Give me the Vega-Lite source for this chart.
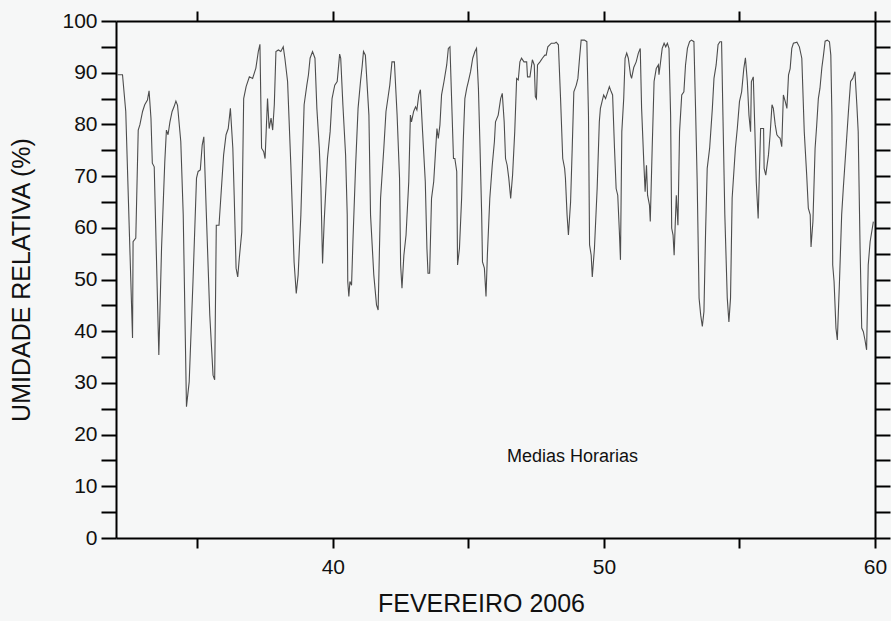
{
  "$schema": "https://vega.github.io/schema/vega-lite/v6.json",
  "width": 759,
  "height": 517,
  "autosize": {"type": "none"},
  "padding": {"left": 116, "top": 21, "right": 16, "bottom": 83},
  "background": "#f6f7f7",
  "config": {
    "view": {"stroke": null},
    "font": "Liberation Sans",
    "axis": {
      "grid": false,
      "domainColor": "#000000",
      "domainWidth": 2,
      "tickColor": "#000000",
      "tickWidth": 2,
      "labelFlush": false,
      "labelFont": "Liberation Sans",
      "labelFontSize": 21,
      "labelColor": "#111111",
      "titleFont": "Liberation Sans",
      "titleFontSize": 25,
      "titleFontWeight": "normal",
      "titleColor": "#111111"
    }
  },
  "datasets": {
    "ur": [
      {"dia": 32.05, "ur": 89.6}, {"dia": 32.24, "ur": 89.6}, {"dia": 32.36, "ur": 82.5}, {"dia": 32.61, "ur": 38.7},
      {"dia": 32.63, "ur": 57.3}, {"dia": 32.73, "ur": 58.0}, {"dia": 32.82, "ur": 78.9}, {"dia": 32.88, "ur": 79.9},
      {"dia": 32.98, "ur": 82.5}, {"dia": 33.06, "ur": 83.8}, {"dia": 33.16, "ur": 84.7}, {"dia": 33.22, "ur": 86.5},
      {"dia": 33.29, "ur": 81.2}, {"dia": 33.34, "ur": 72.5}, {"dia": 33.41, "ur": 71.8}, {"dia": 33.58, "ur": 35.4},
      {"dia": 33.68, "ur": 56.0}, {"dia": 33.80, "ur": 72.8}, {"dia": 33.86, "ur": 78.9}, {"dia": 33.92, "ur": 78.0},
      {"dia": 33.99, "ur": 80.5}, {"dia": 34.07, "ur": 82.5}, {"dia": 34.14, "ur": 83.4}, {"dia": 34.21, "ur": 84.5},
      {"dia": 34.27, "ur": 83.7}, {"dia": 34.39, "ur": 76.7}, {"dia": 34.48, "ur": 62.5}, {"dia": 34.60, "ur": 25.4},
      {"dia": 34.70, "ur": 30.2}, {"dia": 34.84, "ur": 49.6}, {"dia": 34.97, "ur": 69.6}, {"dia": 35.03, "ur": 70.9},
      {"dia": 35.11, "ur": 71.2}, {"dia": 35.18, "ur": 76.0}, {"dia": 35.24, "ur": 77.6}, {"dia": 35.33, "ur": 63.1},
      {"dia": 35.46, "ur": 43.1}, {"dia": 35.58, "ur": 31.5}, {"dia": 35.64, "ur": 30.6}, {"dia": 35.70, "ur": 60.5},
      {"dia": 35.80, "ur": 60.5}, {"dia": 35.89, "ur": 67.7}, {"dia": 35.97, "ur": 74.1}, {"dia": 36.06, "ur": 78.0},
      {"dia": 36.14, "ur": 79.2}, {"dia": 36.22, "ur": 83.1}, {"dia": 36.31, "ur": 75.4}, {"dia": 36.36, "ur": 66.3},
      {"dia": 36.43, "ur": 52.2}, {"dia": 36.49, "ur": 50.5}, {"dia": 36.55, "ur": 54.2}, {"dia": 36.64, "ur": 59.2},
      {"dia": 36.71, "ur": 85.0}, {"dia": 36.80, "ur": 87.3}, {"dia": 36.92, "ur": 89.2}, {"dia": 37.04, "ur": 88.9},
      {"dia": 37.16, "ur": 90.9}, {"dia": 37.25, "ur": 94.1}, {"dia": 37.31, "ur": 95.5}, {"dia": 37.37, "ur": 75.4},
      {"dia": 37.45, "ur": 74.7}, {"dia": 37.50, "ur": 73.4}, {"dia": 37.54, "ur": 78.6}, {"dia": 37.59, "ur": 85.0},
      {"dia": 37.65, "ur": 79.2}, {"dia": 37.72, "ur": 81.2}, {"dia": 37.78, "ur": 78.9}, {"dia": 37.84, "ur": 83.8},
      {"dia": 37.90, "ur": 94.1}, {"dia": 37.99, "ur": 94.4}, {"dia": 38.08, "ur": 94.1}, {"dia": 38.17, "ur": 95.0},
      {"dia": 38.23, "ur": 92.8}, {"dia": 38.33, "ur": 88.3}, {"dia": 38.45, "ur": 72.1}, {"dia": 38.57, "ur": 53.4},
      {"dia": 38.65, "ur": 47.3}, {"dia": 38.72, "ur": 50.9}, {"dia": 38.82, "ur": 62.5}, {"dia": 38.94, "ur": 83.8},
      {"dia": 39.04, "ur": 87.6}, {"dia": 39.10, "ur": 89.6}, {"dia": 39.16, "ur": 92.8}, {"dia": 39.25, "ur": 94.1},
      {"dia": 39.34, "ur": 92.8}, {"dia": 39.41, "ur": 83.1}, {"dia": 39.50, "ur": 75.4}, {"dia": 39.56, "ur": 67.6},
      {"dia": 39.62, "ur": 53.1}, {"dia": 39.68, "ur": 61.2}, {"dia": 39.80, "ur": 73.4}, {"dia": 39.90, "ur": 78.6},
      {"dia": 39.97, "ur": 85.0}, {"dia": 40.07, "ur": 87.6}, {"dia": 40.16, "ur": 88.3}, {"dia": 40.25, "ur": 93.6},
      {"dia": 40.29, "ur": 92.8}, {"dia": 40.37, "ur": 83.8}, {"dia": 40.47, "ur": 74.1}, {"dia": 40.53, "ur": 62.5},
      {"dia": 40.55, "ur": 49.6}, {"dia": 40.59, "ur": 46.7}, {"dia": 40.63, "ur": 49.6}, {"dia": 40.69, "ur": 48.9},
      {"dia": 40.74, "ur": 57.3}, {"dia": 40.84, "ur": 72.1}, {"dia": 40.93, "ur": 83.1}, {"dia": 41.02, "ur": 88.3},
      {"dia": 41.08, "ur": 91.2}, {"dia": 41.13, "ur": 94.1}, {"dia": 41.20, "ur": 93.4}, {"dia": 41.33, "ur": 81.8},
      {"dia": 41.39, "ur": 62.5}, {"dia": 41.51, "ur": 50.9}, {"dia": 41.61, "ur": 45.1}, {"dia": 41.67, "ur": 44.1},
      {"dia": 41.76, "ur": 65.7}, {"dia": 41.88, "ur": 75.4}, {"dia": 41.96, "ur": 82.5}, {"dia": 42.04, "ur": 85.4},
      {"dia": 42.10, "ur": 87.6}, {"dia": 42.18, "ur": 92.1}, {"dia": 42.27, "ur": 92.1}, {"dia": 42.37, "ur": 81.8},
      {"dia": 42.46, "ur": 69.6}, {"dia": 42.50, "ur": 52.8}, {"dia": 42.55, "ur": 48.3}, {"dia": 42.62, "ur": 54.7},
      {"dia": 42.70, "ur": 58.6}, {"dia": 42.80, "ur": 68.9}, {"dia": 42.86, "ur": 81.8}, {"dia": 42.90, "ur": 80.5},
      {"dia": 42.98, "ur": 82.5}, {"dia": 43.05, "ur": 83.4}, {"dia": 43.10, "ur": 82.8}, {"dia": 43.17, "ur": 85.7},
      {"dia": 43.23, "ur": 86.7}, {"dia": 43.31, "ur": 78.6}, {"dia": 43.41, "ur": 68.9}, {"dia": 43.47, "ur": 56.0},
      {"dia": 43.51, "ur": 51.2}, {"dia": 43.57, "ur": 51.2}, {"dia": 43.64, "ur": 65.7}, {"dia": 43.72, "ur": 68.9},
      {"dia": 43.78, "ur": 74.1}, {"dia": 43.84, "ur": 79.2}, {"dia": 43.89, "ur": 77.3}, {"dia": 43.95, "ur": 79.9},
      {"dia": 44.01, "ur": 85.7}, {"dia": 44.10, "ur": 88.3}, {"dia": 44.20, "ur": 91.5}, {"dia": 44.26, "ur": 94.7},
      {"dia": 44.32, "ur": 95.0}, {"dia": 44.38, "ur": 85.0}, {"dia": 44.45, "ur": 73.4}, {"dia": 44.50, "ur": 73.4},
      {"dia": 44.57, "ur": 70.9}, {"dia": 44.60, "ur": 52.8}, {"dia": 44.67, "ur": 56.0}, {"dia": 44.75, "ur": 65.7},
      {"dia": 44.81, "ur": 76.7}, {"dia": 44.87, "ur": 85.0}, {"dia": 44.94, "ur": 87.0}, {"dia": 45.00, "ur": 88.3},
      {"dia": 45.08, "ur": 90.2}, {"dia": 45.16, "ur": 92.8}, {"dia": 45.24, "ur": 94.1}, {"dia": 45.30, "ur": 94.7},
      {"dia": 45.37, "ur": 87.0}, {"dia": 45.43, "ur": 75.4}, {"dia": 45.49, "ur": 62.5}, {"dia": 45.52, "ur": 53.4},
      {"dia": 45.59, "ur": 52.2}, {"dia": 45.65, "ur": 46.7}, {"dia": 45.70, "ur": 54.7}, {"dia": 45.79, "ur": 65.7},
      {"dia": 45.88, "ur": 72.1}, {"dia": 45.96, "ur": 76.7}, {"dia": 46.00, "ur": 80.5}, {"dia": 46.10, "ur": 81.8},
      {"dia": 46.19, "ur": 85.0}, {"dia": 46.25, "ur": 86.0}, {"dia": 46.32, "ur": 80.5}, {"dia": 46.37, "ur": 73.4},
      {"dia": 46.43, "ur": 72.1}, {"dia": 46.49, "ur": 69.6}, {"dia": 46.56, "ur": 65.7}, {"dia": 46.63, "ur": 70.2},
      {"dia": 46.71, "ur": 78.6}, {"dia": 46.78, "ur": 88.9}, {"dia": 46.84, "ur": 88.6}, {"dia": 46.90, "ur": 92.1},
      {"dia": 46.96, "ur": 92.8}, {"dia": 47.05, "ur": 92.1}, {"dia": 47.15, "ur": 92.1}, {"dia": 47.18, "ur": 89.2},
      {"dia": 47.27, "ur": 89.2}, {"dia": 47.36, "ur": 92.5}, {"dia": 47.43, "ur": 91.5}, {"dia": 47.47, "ur": 85.4},
      {"dia": 47.51, "ur": 85.0}, {"dia": 47.55, "ur": 91.5}, {"dia": 47.64, "ur": 92.1}, {"dia": 47.73, "ur": 92.8},
      {"dia": 47.82, "ur": 93.4}, {"dia": 47.87, "ur": 93.4}, {"dia": 47.93, "ur": 95.0}, {"dia": 48.06, "ur": 95.7},
      {"dia": 48.18, "ur": 95.7}, {"dia": 48.24, "ur": 95.9}, {"dia": 48.32, "ur": 95.4}, {"dia": 48.40, "ur": 85.0},
      {"dia": 48.48, "ur": 73.4}, {"dia": 48.55, "ur": 71.5}, {"dia": 48.58, "ur": 69.6}, {"dia": 48.64, "ur": 62.5},
      {"dia": 48.69, "ur": 58.6}, {"dia": 48.77, "ur": 65.0}, {"dia": 48.83, "ur": 75.4}, {"dia": 48.89, "ur": 86.3},
      {"dia": 48.98, "ur": 87.6}, {"dia": 49.04, "ur": 88.9}, {"dia": 49.10, "ur": 92.8}, {"dia": 49.16, "ur": 96.3},
      {"dia": 49.28, "ur": 96.3}, {"dia": 49.37, "ur": 96.0}, {"dia": 49.43, "ur": 81.8}, {"dia": 49.47, "ur": 56.7},
      {"dia": 49.53, "ur": 54.7}, {"dia": 49.57, "ur": 50.5}, {"dia": 49.65, "ur": 56.0}, {"dia": 49.75, "ur": 67.6},
      {"dia": 49.83, "ur": 80.5}, {"dia": 49.87, "ur": 83.1}, {"dia": 49.93, "ur": 84.4}, {"dia": 49.99, "ur": 85.7},
      {"dia": 50.06, "ur": 85.0}, {"dia": 50.14, "ur": 86.3}, {"dia": 50.20, "ur": 87.3}, {"dia": 50.27, "ur": 86.3},
      {"dia": 50.32, "ur": 85.7}, {"dia": 50.39, "ur": 75.4}, {"dia": 50.45, "ur": 67.6}, {"dia": 50.51, "ur": 66.3},
      {"dia": 50.57, "ur": 59.2}, {"dia": 50.61, "ur": 53.8}, {"dia": 50.66, "ur": 78.6}, {"dia": 50.73, "ur": 85.0},
      {"dia": 50.78, "ur": 92.8}, {"dia": 50.84, "ur": 93.8}, {"dia": 50.90, "ur": 92.8}, {"dia": 50.98, "ur": 89.6},
      {"dia": 51.02, "ur": 88.9}, {"dia": 51.10, "ur": 91.0}, {"dia": 51.19, "ur": 92.1}, {"dia": 51.27, "ur": 93.8},
      {"dia": 51.34, "ur": 94.7}, {"dia": 51.39, "ur": 83.1}, {"dia": 51.47, "ur": 72.8}, {"dia": 51.52, "ur": 67.0},
      {"dia": 51.57, "ur": 72.1}, {"dia": 51.61, "ur": 66.3}, {"dia": 51.68, "ur": 64.4}, {"dia": 51.71, "ur": 61.2},
      {"dia": 51.78, "ur": 75.4}, {"dia": 51.85, "ur": 88.3}, {"dia": 51.93, "ur": 90.8}, {"dia": 52.01, "ur": 91.5},
      {"dia": 52.03, "ur": 89.6}, {"dia": 52.09, "ur": 92.1}, {"dia": 52.15, "ur": 94.7}, {"dia": 52.22, "ur": 95.7},
      {"dia": 52.28, "ur": 95.0}, {"dia": 52.34, "ur": 95.7}, {"dia": 52.40, "ur": 94.7}, {"dia": 52.46, "ur": 81.8},
      {"dia": 52.50, "ur": 59.9}, {"dia": 52.55, "ur": 58.6}, {"dia": 52.59, "ur": 54.7}, {"dia": 52.62, "ur": 59.2},
      {"dia": 52.67, "ur": 66.3}, {"dia": 52.73, "ur": 60.5}, {"dia": 52.79, "ur": 78.6}, {"dia": 52.87, "ur": 85.7},
      {"dia": 52.95, "ur": 86.3}, {"dia": 53.01, "ur": 91.5}, {"dia": 53.08, "ur": 94.7}, {"dia": 53.16, "ur": 96.0},
      {"dia": 53.23, "ur": 96.3}, {"dia": 53.32, "ur": 96.0}, {"dia": 53.38, "ur": 83.1}, {"dia": 53.44, "ur": 68.9},
      {"dia": 53.51, "ur": 46.4}, {"dia": 53.57, "ur": 43.1}, {"dia": 53.63, "ur": 40.9}, {"dia": 53.69, "ur": 43.8},
      {"dia": 53.75, "ur": 59.2}, {"dia": 53.81, "ur": 71.5}, {"dia": 53.90, "ur": 75.4}, {"dia": 54.00, "ur": 83.1},
      {"dia": 54.06, "ur": 88.9}, {"dia": 54.14, "ur": 91.5}, {"dia": 54.21, "ur": 95.4}, {"dia": 54.28, "ur": 96.0},
      {"dia": 54.34, "ur": 96.0}, {"dia": 54.39, "ur": 81.8}, {"dia": 54.46, "ur": 62.5}, {"dia": 54.55, "ur": 46.4},
      {"dia": 54.61, "ur": 41.8}, {"dia": 54.67, "ur": 46.4}, {"dia": 54.73, "ur": 65.7}, {"dia": 54.85, "ur": 75.4},
      {"dia": 54.92, "ur": 79.2}, {"dia": 55.00, "ur": 84.4}, {"dia": 55.08, "ur": 86.3}, {"dia": 55.16, "ur": 90.8},
      {"dia": 55.22, "ur": 92.9}, {"dia": 55.29, "ur": 88.3}, {"dia": 55.35, "ur": 81.8}, {"dia": 55.41, "ur": 78.6},
      {"dia": 55.44, "ur": 88.3}, {"dia": 55.51, "ur": 89.2}, {"dia": 55.57, "ur": 78.6}, {"dia": 55.62, "ur": 68.9},
      {"dia": 55.69, "ur": 61.8}, {"dia": 55.78, "ur": 79.2}, {"dia": 55.89, "ur": 79.2}, {"dia": 55.91, "ur": 71.5},
      {"dia": 55.97, "ur": 70.2}, {"dia": 56.07, "ur": 74.1}, {"dia": 56.13, "ur": 78.0}, {"dia": 56.20, "ur": 83.8},
      {"dia": 56.25, "ur": 83.1}, {"dia": 56.32, "ur": 79.9}, {"dia": 56.38, "ur": 78.0}, {"dia": 56.44, "ur": 77.6},
      {"dia": 56.50, "ur": 77.3}, {"dia": 56.56, "ur": 75.7}, {"dia": 56.62, "ur": 85.7}, {"dia": 56.69, "ur": 84.4},
      {"dia": 56.75, "ur": 83.1}, {"dia": 56.81, "ur": 89.6}, {"dia": 56.87, "ur": 90.8}, {"dia": 56.93, "ur": 94.7},
      {"dia": 56.99, "ur": 95.7}, {"dia": 57.12, "ur": 95.9}, {"dia": 57.21, "ur": 95.0}, {"dia": 57.30, "ur": 92.8},
      {"dia": 57.39, "ur": 78.6}, {"dia": 57.48, "ur": 70.2}, {"dia": 57.54, "ur": 63.8}, {"dia": 57.61, "ur": 62.5},
      {"dia": 57.64, "ur": 56.3}, {"dia": 57.71, "ur": 61.2}, {"dia": 57.79, "ur": 75.4}, {"dia": 57.85, "ur": 79.9},
      {"dia": 57.91, "ur": 85.0}, {"dia": 57.97, "ur": 87.0}, {"dia": 58.04, "ur": 91.0}, {"dia": 58.10, "ur": 93.4},
      {"dia": 58.16, "ur": 96.1}, {"dia": 58.24, "ur": 96.3}, {"dia": 58.32, "ur": 96.0}, {"dia": 58.37, "ur": 93.4},
      {"dia": 58.41, "ur": 81.8}, {"dia": 58.44, "ur": 52.8}, {"dia": 58.49, "ur": 49.6}, {"dia": 58.56, "ur": 40.6},
      {"dia": 58.61, "ur": 38.3}, {"dia": 58.69, "ur": 49.6}, {"dia": 58.77, "ur": 62.5}, {"dia": 58.83, "ur": 67.6},
      {"dia": 58.93, "ur": 75.4}, {"dia": 59.02, "ur": 82.5}, {"dia": 59.10, "ur": 88.3}, {"dia": 59.18, "ur": 88.9},
      {"dia": 59.26, "ur": 90.2}, {"dia": 59.33, "ur": 83.8}, {"dia": 59.38, "ur": 78.6}, {"dia": 59.45, "ur": 56.0},
      {"dia": 59.51, "ur": 40.6}, {"dia": 59.57, "ur": 39.9}, {"dia": 59.63, "ur": 38.3}, {"dia": 59.69, "ur": 36.4},
      {"dia": 59.75, "ur": 52.8}, {"dia": 59.82, "ur": 57.3}, {"dia": 59.94, "ur": 61.2}
    ],
    "nota": [
      {"dia": 48.84, "ur": 15.7, "texto": "Medias Horarias"}
    ]
  },
  "layer": [
    {
      "data": {"name": "ur"},
      "mark": {"type": "line", "stroke": "#4d4d4d", "strokeWidth": 1.1, "clip": true},
      "encoding": {
        "x": {
          "field": "dia", "type": "quantitative",
          "scale": {"domain": [32, 60], "nice": false, "zero": false},
          "axis": {
            "orient": "bottom", "title": "FEVEREIRO 2006",
            "values": [35, 40, 45, 50, 55, 60],
            "labelExpr": "datum.value % 10 === 0 ? datum.label : ''",
            "tickSize": 10, "labelPadding": 8, "titlePadding": 14,
            "titleX": 365
          }
        },
        "y": {
          "field": "ur", "type": "quantitative",
          "scale": {"domain": [0, 100], "nice": false},
          "axis": {
            "orient": "left", "title": "UMIDADE RELATIVA (%)",
            "values": [0, 5, 10, 15, 20, 25, 30, 35, 40, 45, 50, 55, 60, 65, 70, 75, 80, 85, 90, 95, 100],
            "labelExpr": "datum.value % 10 === 0 ? datum.label : ''",
            "tickSize": 15, "labelPadding": 4, "titlePadding": 27
          }
        }
      }
    },
    {
      "data": {"name": "ur"},
      "mark": {"type": "line", "opacity": 0},
      "encoding": {
        "x": {
          "field": "dia", "type": "quantitative",
          "scale": {"domain": [32, 60], "nice": false, "zero": false},
          "axis": {
            "orient": "top", "title": null, "labels": false,
            "values": [35, 40, 45, 50, 55, 60], "tickSize": 10
          }
        },
        "y": {
          "field": "ur", "type": "quantitative",
          "scale": {"domain": [0, 100], "nice": false},
          "axis": {
            "orient": "right", "title": null, "labels": false,
            "values": [0, 5, 10, 15, 20, 25, 30, 35, 40, 45, 50, 55, 60, 65, 70, 75, 80, 85, 90, 95, 100],
            "tickSize": 15
          }
        }
      }
    },
    {
      "data": {"name": "nota"},
      "mark": {"type": "text", "font": "Liberation Sans", "fontSize": 18, "color": "#111111", "align": "center", "baseline": "middle"},
      "encoding": {
        "x": {"field": "dia", "type": "quantitative", "axis": null},
        "y": {"field": "ur", "type": "quantitative", "axis": null},
        "text": {"field": "texto"}
      }
    }
  ],
  "resolve": {"axis": {"x": "independent", "y": "independent"}}
}
